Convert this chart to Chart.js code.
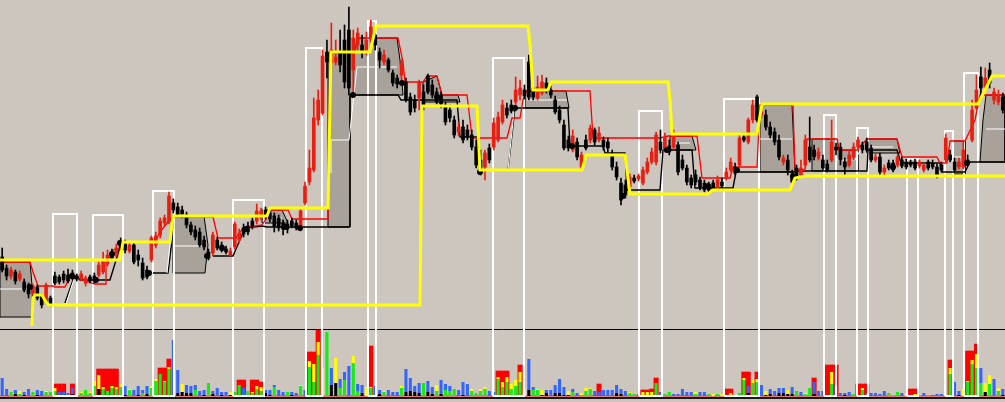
<!DOCTYPE html>
<html>
<head>
<meta charset="utf-8">
<script src="https://cdn.jsdelivr.net/npm/chart.js@4.4.1/dist/chart.umd.min.js"></script>
<style>
  html, body { margin: 0; padding: 0; background: #ccc6bf; }
  #wrap { width: 1005px; height: 402px; position: relative; }
</style>
</head>
<body>
<div id="wrap"><canvas id="chart"></canvas></div>
<script>
// ------------------------------------------------------------
// Price panel is measured downward from the top of the chart
// (the price axis is reversed), volume panel upward from its base.
// ------------------------------------------------------------

const BAR_COUNT   = 229;
const PANEL_SPLIT = 329;   // separator between price and volume
const PANEL_FLOOR = 398;   // bottom rule of the volume panel
const BOX_BASE    = 396;   // white boxes run down to here

/* ---------- candles ---------- */
const open = [
  257,268,276,272,279,282,285,293,287,296, 302,298,276,277,274,275,273,276,279,283,
  277,276,275,272,264,252,255,243,244,251, 245,255,263,270,260,245,235,223,222,203,
  207,210,215,225,230,232,240,252,253,240, 245,249,255,247,240,228,226,221,221,218,
  210,213,216,218,223,224,221,223,229,203, 182,170,120,113,52,63,62,52,40,30,
  70,45,45,50,38,35,52,62,60,73, 78,75,82,97,100,98,92,76,85,92,
  95,105,110,120,132,127,130,135,147,160, 167,148,147,140,122,108,105,102,95,90,
  62,88,98,93,83,90,100,110,125,140, 150,142,167,140,140,130,140,140,142,155,
  167,183,185,187,178,179,183,172,162,162, 142,150,146,147,145,160,168,178,175,180,
  183,185,183,188,182,178,170,167,165,137, 142,120,97,115,115,127,132,140,162,160,
  175,168,175,165,147,150,158,160,164,160, 147,147,162,165,157,147,145,142,148,160,
  157,172,163,163,165,160,162,162,162,166, 170,162,163,167,165,160,155,162,167,167,
  160,140,108,77,87,70,100,102,97
];
const close = [
  270,276,270,281,274,290,294,286,298,305, 285,304,283,282,280,281,278,279,274,278,
  281,281,265,260,255,258,248,249,250,245, 262,260,278,277,238,236,221,218,196,210,
  215,214,225,232,237,245,247,258,235,248, 250,252,251,224,233,234,232,226,211,211,
  216,219,226,228,229,229,226,228,211,186, 168,118,100,56,62,50,57,65,82,88,
  38,33,52,40,27,45,60,55,70,83, 84,63,100,112,108,82,105,92,95,102,
  104,122,118,135,127,140,137,147,165,172, 153,160,123,117,105,115,111,90,88,96,
  97,97,87,82,90,95,112,120,148,148, 136,157,155,148,128,142,133,147,148,167,
  177,200,195,177,181,176,170,162,152,135, 150,138,152,133,172,168,182,185,182,187,
  190,190,188,180,186,172,162,173,138,140, 120,105,120,112,127,135,142,157,158,170,
  182,177,168,140,160,157,152,168,170,142, 150,160,167,155,147,140,150,150,160,157,
  172,168,168,170,157,166,167,165,168,162, 165,168,167,175,170,138,160,170,162,150,
  163,110,90,88,78,83,92,95,110
];
const high = [
  248,265,267,270,271,279,283,284,285,294, 283,296,272,275,271,269,270,274,271,276,
  275,273,262,252,250,249,244,238,240,242, 242,250,258,266,236,232,218,215,192,199,
  203,206,212,222,226,228,236,249,232,237, 242,246,248,222,229,224,222,218,204,208,
  207,210,213,215,220,220,218,220,208,182, 150,98,90,50,40,23,40,30,25,7,
  30,28,35,32,20,28,48,50,58,70, 75,60,78,93,95,80,85,74,80,88,
  92,102,105,116,122,120,125,130,140,150, 150,144,118,112,100,103,100,77,80,85,
  55,85,76,75,78,86,96,106,120,136, 130,138,152,135,125,128,127,137,138,150,
  162,178,180,174,175,174,167,158,148,132, 130,133,140,130,142,155,165,175,170,177,
  180,182,180,176,178,168,158,163,135,133, 118,100,95,108,110,122,128,135,155,155,
  170,165,160,135,117,145,148,155,160,120, 143,143,158,150,143,137,142,138,145,154,
  153,165,160,160,155,157,159,160,159,160, 163,160,160,164,162,134,150,158,158,140,
  155,100,75,67,68,63,88,90,93
];
const low = [
  272,280,279,284,281,292,298,295,300,308, 304,306,285,284,283,283,280,281,281,286,
  283,283,277,274,266,260,257,251,253,253, 264,266,280,279,262,248,238,226,224,213,
  217,218,228,235,240,247,250,260,256,250, 252,254,256,249,243,237,235,229,224,220,
  219,222,232,231,235,233,228,230,231,205, 185,172,125,115,78,70,65,72,88,95,
  97,50,58,55,42,50,68,65,72,86, 88,80,102,115,112,110,110,94,98,104,
  108,125,122,138,136,143,140,150,168,175, 180,163,150,142,124,118,113,105,100,99,
  100,100,100,95,93,98,114,123,150,151, 152,160,170,150,143,145,142,150,152,170,
  180,205,198,190,183,181,185,174,164,165, 153,152,155,150,175,170,185,188,185,190,
  192,193,190,190,188,180,172,175,167,142, 144,123,122,118,130,138,145,160,165,175,
  184,180,177,167,162,160,160,170,172,162, 155,165,175,167,160,150,153,152,162,162,
  175,175,170,172,167,168,169,167,170,168, 172,170,169,178,172,162,162,172,169,169,
  165,142,110,95,90,88,104,105,113
];

/* ---------- volume (stacked segments + red blocks) ---------- */
const volBlack = [
  0,0,0,2,0,1,0,0,1,0, 0,0,0,0,0,0,2,0,0,0, 0,0,7,0,0,0,0,0,1,0, 0,1,0,2,0,0,0,0,0,0,
  3,4,3,3,0,0,1,0,2,0, 1,0,1,0,0,0,0,0,0,0, 3,1,0,0,0,0,1,0,0,0, 0,0,0,0,0,11,13,0,0,0,
  0,0,3,0,0,0,2,0,0,0, 0,0,4,5,4,3,0,4,2,0, 2,0,0,0,0,1,0,0,0,0, 0,0,0,0,0,0,0,0,0,0,
  6,0,0,1,3,0,3,3,1,1, 0,0,0,0,0,0,0,0,0,0, 3,2,0,0,0,0,0,0,0,0, 0,0,0,0,0,0,0,0,0,0,
  0,0,0,0,0,0,0,0,0,0, 3,0,0,0,1,2,0,3,3,2, 2,0,0,0,0,2,0,0,0,0, 0,0,1,0,0,0,0,0,0,0,
  0,0,0,0,0,0,0,0,0,0, 0,0,0,0,0,0,0,0,1,0, 0,0,0,0,4,0,0,0,1
];
const volGreen = [
  0,0,4,0,2,0,0,4,0,0, 4,4,5,0,0,0,0,1,3,6, 3,10,0,7,5,8,7,9,0,6, 0,0,3,0,8,15,22,14,27,0,
  0,0,0,0,6,0,0,13,0,0, 0,0,0,4,11,0,5,3,7,5, 0,0,9,0,0,4,0,0,10,0, 29,14,41,0,64,0,0,8,16,0,
  33,5,0,0,8,0,0,4,0,0, 0,8,0,0,0,0,13,0,0,5, 0,6,5,7,0,0,0,5,3,5, 7,0,0,17,9,14,7,10,14,0,
  0,6,6,0,0,0,0,0,0,0, 4,0,1,5,7,0,0,0,0,0, 0,0,0,3,2,0,0,0,0,13, 0,2,4,0,0,0,0,0,2,0,
  0,2,0,2,0,0,0,0,3,16, 0,13,14,0,0,0,0,0,0,0, 0,5,0,2,8,0,0,0,0,12, 0,0,0,0,2,0,6,0,0,0,
  0,0,3,0,4,0,0,0,0,0, 0,1,0,0,0,0,22,0,0,0, 14,32,28,13,0,12,0,5,0
];
const volYellow = [
  0,0,0,0,3,0,0,0,0,0, 1,0,3,0,0,0,0,0,1,0, 1,5,14,2,0,2,2,3,0,1, 0,0,0,0,2,2,0,1,2,0,
  0,8,0,0,0,0,0,0,0,0, 0,0,3,0,0,0,0,1,3,4, 0,0,0,0,0,0,0,0,1,0, 6,18,13,28,0,0,25,0,0,0,
  7,0,0,9,1,0,0,1,0,0, 0,2,0,0,0,0,0,0,0,6, 0,0,0,0,0,0,0,2,0,2, 2,0,0,2,5,5,5,6,10,7,
  0,0,1,5,0,0,0,0,0,4, 0,0,2,3,1,0,0,0,0,0, 0,0,0,1,0,0,4,4,4,0, 0,0,0,0,0,0,0,0,2,0,
  0,0,2,0,2,0,3,0,0,2, 0,3,3,0,4,0,0,0,0,4, 0,0,0,1,0,0,0,0,0,12, 0,0,0,0,0,0,2,0,0,0,
  0,0,0,0,0,0,2,0,2,0, 0,0,0,0,0,0,6,0,0,7, 1,4,14,0,9,9,0,3,0
];
const volBlue = [
  18,7,0,4,0,3,7,0,5,5, 0,0,0,4,4,3,6,0,0,0, 0,0,0,0,0,0,0,0,9,0, 6,9,3,8,0,0,0,0,0,56,
  23,0,8,7,5,5,5,0,3,8, 3,4,0,0,0,8,0,0,0,0, 3,5,2,6,4,0,3,3,0,6, 0,0,0,0,0,17,0,9,8,30,
  0,7,8,0,0,10,4,0,6,4, 4,0,23,13,6,10,0,11,7,0, 14,6,5,0,6,13,12,0,0,0, 0,5,4,0,0,0,0,0,0,0,
  31,3,0,0,3,6,8,14,8,0, 3,3,0,0,0,5,4,6,6,6, 8,5,5,0,0,2,0,0,0,0, 4,0,0,2,2,7,4,4,0,4,
  4,0,0,0,0,0,0,0,0,0, 7,0,0,11,0,5,5,5,5,0, 7,0,4,0,0,12,5,5,0,0, 11,3,2,4,0,0,0,3,3,3,
  2,5,0,0,0,3,0,0,0,0, 3,0,1,2,2,0,0,14,4,0, 0,0,0,15,0,0,17,0,6
];
const volRed = [
  0,0,0,0,0,0,0,0,0,0, 0,0,12,12,12,0,12,0,0,0, 0,0,27,27,27,27,27,0,0,0, 0,0,0,0,0,0,28,28,37,0,
  0,0,0,0,0,0,0,0,0,0, 0,0,0,0,16,16,0,16,16,14, 0,0,0,0,0,0,0,0,0,0, 44,44,66,0,0,0,0,0,0,0,
  0,0,0,0,50,0,0,0,0,0, 0,0,0,0,0,0,0,0,0,0, 0,0,0,0,0,0,0,0,0,0, 0,0,0,25,25,25,0,0,31,0,
  0,0,0,0,0,0,0,0,0,0, 0,0,0,0,0,0,12,0,0,0, 0,0,0,0,0,0,6,6,7,18, 0,0,0,0,0,0,0,0,0,0,
  0,0,0,0,0,7,7,0,0,24, 24,0,24,0,0,0,0,0,0,0, 0,0,0,0,0,18,0,0,31,31, 31,0,0,0,0,12,12,12,0,0,
  0,0,0,0,0,0,0,7,7,0, 0,0,0,0,0,0,36,0,0,0, 45,45,52,0,0,0,0,0,0
];

/* ---------- channel and stop lines (bar position, level) ---------- */
const upperX = [0,27.34,28.03,38.74,39.42,60.84,61.52,74.74,75.42,84.31,85.68,120.31,120.77,121.45,124.87,125.55,152.21,152.67,153.12,172.49,173.63,222.85,224.44,226.04,229];
const upperY = [260,260,242,242,216,216,208,208,52,52,26,26,45,90,90,82,82,100,134,134,104,104,90,76,76];

const lowerX = [7.29,7.52,7.98,9.57,10.48,11.17,95.70,96.16,108.69,109.37,132.62,133.53,142.41,143.55,161.32,162.46,180.01,181.15,183.43,229];
const lowerY = [326,298,295,295,302,305,305,106,106,170,170,155,155,194,194,190,190,178,176,176];

const stopX = [0,6.84,7.52,8.66,12.08,12.53,14.81,15.72,17.55,18.23,21.65,23.93,24.15,25.06,25.75,27.34,27.80,35.32,36.46,38.28,39.19,48.53,49.67,53.78,55.37,59.70,61.98,65.62,66.54,74.74,75.19,80.89,81.35,90.69,91.83,92.28,96.38,97.30,99.57,100.71,106.41,107.09,107.55,115.53,116.66,118.49,119.17,120.08,134.44,135.12,150.39,152.21,158.82,159.96,166.34,167.02,172.49,173.17,180.69,181.15,183.43,183.88,190.72,191.17,195.28,197.55,204.39,205.53,213.50,214.19,215.78,216.47,219.88,222.16,223.30,229];
const stopY = [262,262,272,286,286,287,287,278,276,279,284,284,262,257,250,248,242,242,232,222,217,217,238,238,228,225,210,210,219,219,52,52,38,38,62,82,82,76,76,95,95,120,138,138,118,118,100,91,91,138,138,136,136,178,178,167,167,105,105,170,170,139,139,150,150,139,139,157,157,163,163,141,141,120,95,95];

const trailX = [14.81,16.63,17.32,18.23,25.06,27.34,28.03,null, 34.86,38.28,39.19,39.42,null,
  48.53,53.09,55.83,59.70,60.84,79.75,null,
  80.21,90.69,91.37,104.13,104.82,108.69,109.37,115.75,117.35,129.42,129.88,137.40,137.86,142.41,142.87,150.39,151.07,157.68,158.36,167.02,167.70,180.69,181.38,197.55,197.78,204.39,205.30,214.19,214.64,219.88,221.02,229];
const trailY = [303,280,276,280,280,247,242,null, 273,273,240,217,null,
  256,256,228,226,227,227,null,
  95,95,100,100,137,137,170,170,108,108,146,146,153,153,190,190,150,150,188,188,172,172,171,171,150,150,163,163,172,172,162,162];

const midX = [0,6.38,null, 39.42,46.26,null, 59.93,64.26,null, 75.42,75.42,79.52,81.35,90.46,null,
  120.08,129.20,null, 153.12,157.22,null, 173.17,180.47,null, 185.02,187.53,null,
  190.72,194.82,196.42,203.48,null, 217.15,219.88,null, 224.67,229,null,
  15.04,16.86,null, 38.05,38.96,null, 115.75,117.12];
const midY = [289,289,null, 246,246,null, 218,218,null, 173,140,140,67,67,null,
  100,100,null, 143,143,null, 139,139,null, 157,157,null,
  160,160,147,147,null, 157,157,null, 129,129,null,
  304,279,null, 273,235,null, 170,112];

// clusters where price sat on the stop line
const touchX = [6.84,16.41,21.87,25.52,27.34,33.95,47.17,50.58,56.05,64.94,68.36,80.43,91.60,99.57,109.37,117.35,130.34,141.96,151.98,161.32,167.93,180.69,203.48,220.34];
const touchY = [287,276,280,254,243,273,256,248,229,227,228,95,83,97,172,108,146,196,150,186,170,176,167,163];

/* ---------- shaded ranges (closed outlines) ---------- */
const shadeX = [0,6.84,7.29,7.52,0,0,null,
  39.42,46.48,47.39,46.71,39.42,39.42,null,
  59.70,64.26,65.62,59.70,59.70,null,
  74.74,80.89,81.35,90.46,91.14,91.83,79.75,79.75,74.74,74.74,null,
  96.38,99.57,100.71,104.36,104.82,96.38,96.38,null,
  119.63,128.97,129.65,119.63,119.63,null,
  152.67,157.68,158.59,152.67,152.67,null,
  173.17,180.47,181.15,173.17,173.17,null,
  185.02,190.72,191.17,195.28,195.50,185.02,185.02,null,
  197.55,204.39,205.07,197.55,197.55,null,
  217.15,219.88,219.88,217.15,217.15,null,
  223.30,223.99,224.67,229,229,223.30];
const shadeY = [262,262,285,317,317,262,null,
  216,216,245,273,273,216,null,
  210,210,223,223,210,null,
  53,53,38,38,60,95,95,227,227,53,null,
  82,76,95,95,102,102,82,null,
  91,91,108,108,91,null,
  136,136,150,150,136,null,
  105,105,172,172,105,null,
  139,139,150,150,171,171,139,null,
  139,139,153,153,139,null,
  141,141,174,174,141,null,
  162,120,95,95,162,162];

/* ---------- white signal boxes ---------- */
const boxLeft  = [12.08,21.19,34.86,53.09,69.73,83.85,112.34,145.60,164.97,187.76,195.28,206.67,215.33,219.66];
const boxRight = [17.55,28.03,39.65,60.15,73.37,85.68,119.40,150.84,172.95,190.49,197.78,209.18,217.15,222.85];
const boxTop   = [214,215,191,200,48,21,58,111,99,115,128,159,131,73];

/* =========================
   BUILD DATASETS
========================= */
const CANDLE_RED = "#e81e10";
const barX = open.map((_, i) => i + 0.5);

function path(xs, ys) {
  return xs.map((x, i) => ({ x: x === null ? xs[i - 1] : x, y: ys[i] }));
}

const boxPath = [];
boxLeft.forEach((l, k) => {
  const r = boxRight[k], t = boxTop[k];
  boxPath.push({ x: l, y: BOX_BASE }, { x: l, y: t }, { x: r, y: t },
               { x: r, y: BOX_BASE }, { x: l, y: BOX_BASE }, { x: r, y: null });
});

const candleColor = open.map((o, i) => (close[i] < o ? CANDLE_RED : "#000"));

function lineSet(data, color, width, order, extra) {
  return Object.assign({
    type: "line", data, borderColor: color, borderWidth: width,
    pointRadius: 0, tension: 0, fill: false, spanGaps: false, order, yAxisID: "y",
  }, extra || {});
}

function volSet(values, color, order) {
  return {
    type: "bar", yAxisID: "yv", stack: "vol", order,
    data: values.map((v, i) => ({ x: barX[i], y: v })),
    backgroundColor: color, barPercentage: 0.7, categoryPercentage: 1,
  };
}

const panelRules = {
  id: "panelRules",
  beforeDatasetsDraw(chart) {
    const { ctx, chartArea, scales } = chart;
    ctx.save();
    ctx.strokeStyle = "#000";
    ctx.lineWidth = 1;
    const ys = Math.round(scales.y.getPixelForValue(PANEL_SPLIT)) + 0.5;
    ctx.beginPath(); ctx.moveTo(chartArea.left, ys); ctx.lineTo(chartArea.right, ys); ctx.stroke();
    ctx.strokeStyle = "#1a1a1a";
    ctx.lineWidth = 2;
    const yf = scales.y.getPixelForValue(PANEL_FLOOR);
    ctx.beginPath(); ctx.moveTo(chartArea.left, yf); ctx.lineTo(chartArea.right, yf); ctx.stroke();
    ctx.restore();
  },
};

new Chart(document.getElementById("chart").getContext("2d"), {
  type: "bar",
  data: {
    datasets: [
      lineSet(path(upperX, upperY), "#ffff00", 3, 1),
      lineSet(path(lowerX, lowerY), "#ffff00", 3, 2),
      lineSet(path(touchX, touchY), "#000000", 0, 2.5, {
        showLine: false, pointRadius: 3, pointStyle: "circle",
        pointBackgroundColor: "#000000", pointBorderWidth: 0,
      }),
      {
        type: "bar", yAxisID: "y", order: 3, grouped: false,
        data: barX.map((x, i) => ({ x, y: [open[i], close[i]] })),
        backgroundColor: candleColor, barPercentage: 1, categoryPercentage: 1, maxBarThickness: 3,
      },
      {
        type: "bar", yAxisID: "y", order: 4, grouped: false,
        data: barX.map((x, i) => ({ x, y: [high[i], low[i]] })),
        backgroundColor: candleColor, barPercentage: 1, categoryPercentage: 1, maxBarThickness: 1,
      },
      lineSet(path(stopX, stopY), "#ff0000", 1.3, 5),
      lineSet(path(midX, midY), "#ffffff", 1, 6),
      lineSet(path(trailX, trailY), "#000000", 1.4, 7),
      lineSet(boxPath, "#ffffff", 2, 8),
      volSet(volBlack, "#000000", 9),
      volSet(volGreen, "#14ec14", 10),
      volSet(volYellow, "#ffff00", 11),
      volSet(volBlue, "#3366ff", 12),
      {
        type: "bar", yAxisID: "yv", stack: "blocks", order: 13, grouped: false,
        data: volRed.map((v, i) => ({ x: barX[i], y: v })),
        backgroundColor: "#ff0000", barPercentage: 1, categoryPercentage: 1,
      },
      lineSet(path(shadeX, shadeY), "#000000", 1, 14, { fill: "shape", backgroundColor: "#a9a29b" }),
    ],
  },
  options: {
    responsive: true,
    maintainAspectRatio: false,
    devicePixelRatio: 1,
    animation: false,
    events: [],
    layout: { padding: 0, autoPadding: false },
    plugins: { legend: { display: false }, tooltip: { enabled: false } },
    scales: {
      x:  { type: "linear", min: 0, max: BAR_COUNT, offset: false, display: false, stacked: true },
      y:  { type: "linear", min: 0, max: 402, reverse: true, display: false, stacked: false },
      yv: { type: "linear", min: -6, max: 396, display: false, stacked: true },
    },
  },
  plugins: [panelRules],
});
</script>
</body>
</html>
